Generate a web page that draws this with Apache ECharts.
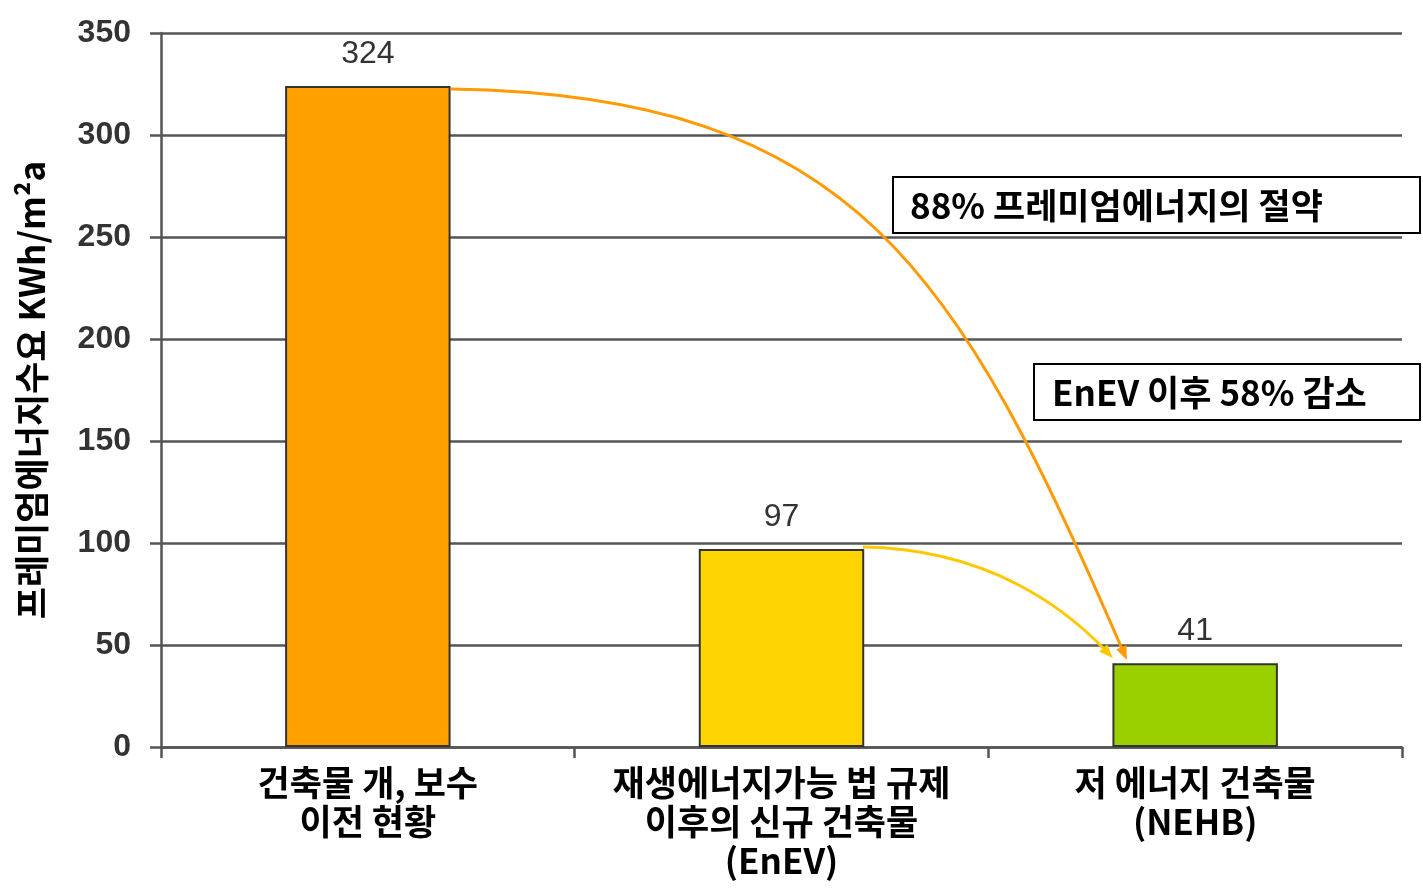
<!DOCTYPE html>
<html>
<head>
<meta charset="utf-8">
<script src="https://cdn.jsdelivr.net/npm/echarts@6/dist/echarts.min.js"></script>
<style>
html,body{margin:0;padding:0;background:#fff;}
#chart{width:1423px;height:889px;}
</style>
</head>
<body>
<div id="chart"></div>
<script>
// ---- data ----
const categories = [
  '건축물 개, 보수\n이전 현황',
  '재생에너지가능 법 규제\n이후의 신규 건축물\n(EnEV)',
  '저 에너지 건축물\n(NEHB)'
];
const values = [324, 97, 41];
const barColors = ['#FFA000', '#FFD500', '#9BD000'];
const yAxisName = '프레미엄에너지수요 KWh/m²a';
const yTicks = { min: 0, max: 350, interval: 50 };

// annotation arrows as cubic Bezier curves in data space:
// [start, control1, control2, end], x = band position (category i centre = i+0.5), y = value
const orangeCurve = [[0.701, 322.5], [1.683, 319.6], [1.929, 231.9], [2.335, 42.6]];
const yellowCurve = [[1.697, 98.0], [1.999, 97.1], [2.185, 68.1], [2.301, 43.6]];
const noteTexts = ['88% 프레미엄에너지의 절약', 'EnEV 이후 58% 감소'];

function arrowSeries(pts, color) {
  return {
    type: 'custom',
    xAxisIndex: 1,
    z: 4,
    silent: true,
    data: [pts.flat()],
    renderItem: function (params, api) {
      const p = [0, 1, 2, 3].map(i => api.coord([api.value(2 * i), api.value(2 * i + 1)]));
      const dx = p[3][0] - p[2][0], dy = p[3][1] - p[2][1];
      const len = Math.sqrt(dx * dx + dy * dy) || 1;
      const ux = dx / len, uy = dy / len;
      const L = 14, W = 5.5;
      const bx = p[3][0] - ux * L, by = p[3][1] - uy * L;
      return {
        type: 'group',
        children: [{
          type: 'bezierCurve',
          shape: {
            x1: p[0][0], y1: p[0][1],
            cpx1: p[1][0], cpy1: p[1][1],
            cpx2: p[2][0], cpy2: p[2][1],
            x2: bx + ux * 3, y2: by + uy * 3
          },
          style: { stroke: color, lineWidth: 3, fill: null }
        }, {
          type: 'polygon',
          shape: { points: [[p[3][0], p[3][1]], [bx - uy * W, by + ux * W], [bx + uy * W, by - ux * W]] },
          style: { fill: color }
        }]
      };
    }
  };
}

const KR = '"Noto Sans CJK KR", sans-serif';
const chart = echarts.init(document.getElementById('chart'));
chart.setOption({
  animation: false,
  backgroundColor: '#fff',
  grid: { left: 161, right: 21, top: 33, bottom: 142 },
  xAxis: [{
    type: 'category',
    data: categories,
    axisLine: { show: true, lineStyle: { color: '#555', width: 2.5 } },
    axisTick: { show: true, length: 11, lineStyle: { color: '#555', width: 2.5 } },
    axisLabel: {
      color: '#000', fontSize: 35, fontWeight: 'bold', lineHeight: 39,
      fontFamily: KR, margin: 16, interval: 0
    }
  }, {
    type: 'value', min: 0, max: 3, show: false
  }],
  yAxis: {
    type: 'value',
    min: yTicks.min, max: yTicks.max, interval: yTicks.interval,
    name: yAxisName,
    nameLocation: 'middle',
    nameRotate: 90,
    nameGap: 112,
    nameTextStyle: { color: '#000', fontSize: 35, fontWeight: 'bold', fontFamily: KR },
    axisLine: { show: true, lineStyle: { color: '#555', width: 2.5 } },
    axisTick: { show: true, length: 11, lineStyle: { color: '#555', width: 2.5 } },
    axisLabel: {
      color: '#333', fontSize: 32, fontWeight: 'bold',
      fontFamily: '"Liberation Sans", Arial, sans-serif', margin: 30
    },
    splitLine: { show: true, lineStyle: { color: '#555', width: 2.5 } }
  },
  series: [{
    type: 'bar',
    barWidth: '40%',
    data: values.map((v, i) => ({
      value: v,
      itemStyle: { color: barColors[i], borderColor: '#333', borderWidth: 2 }
    })),
    label: {
      show: true, position: 'top', distance: 16,
      color: '#333', fontSize: 32, fontWeight: 'normal',
      fontFamily: '"Liberation Sans", Arial, sans-serif'
    },
    z: 3
  },
  arrowSeries(orangeCurve, '#FF9A00'),
  arrowSeries(yellowCurve, '#FFC800')
  ],
  graphic: [{
    type: 'group', x: 893, y: 177, z: 100,
    children: [{
      type: 'rect', shape: { x: 0, y: 0, width: 527, height: 56 },
      style: { fill: '#fff', stroke: '#000', lineWidth: 2 }
    }, {
      type: 'text', x: 17, y: 29,
      style: {
        text: noteTexts[0], fill: '#000', verticalAlign: 'middle',
        font: 'bold 35px ' + KR
      }
    }]
  }, {
    type: 'group', x: 1034, y: 364, z: 100,
    children: [{
      type: 'rect', shape: { x: 0, y: 0, width: 386, height: 56 },
      style: { fill: '#fff', stroke: '#000', lineWidth: 2 }
    }, {
      type: 'text', x: 18, y: 29,
      style: {
        text: noteTexts[1], fill: '#000', verticalAlign: 'middle',
        font: 'bold 35px ' + KR
      }
    }]
  }]
});
</script>
</body>
</html>
